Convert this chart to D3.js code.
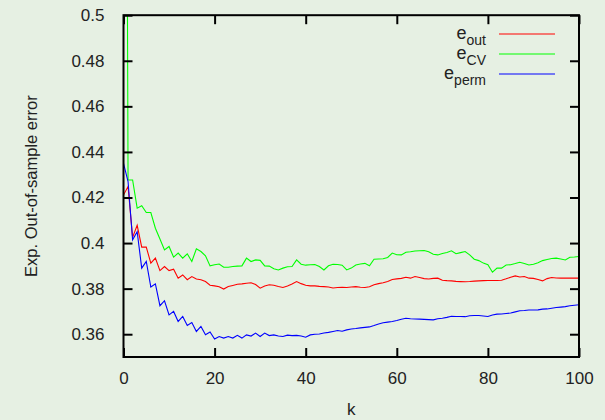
<!DOCTYPE html>
<html><head><meta charset="utf-8">
<script src="https://cdn.jsdelivr.net/npm/d3@7"></script>
<style>body{margin:0;background:#e6f0e3;} svg{display:block;font-family:"Liberation Sans",Arial,sans-serif;}</style>
</head><body><svg id="c" width="605" height="420"></svg>
<script>
const eOut = [0.4211,0.4248,0.4025,0.4078,0.3982,0.3982,0.3912,0.3934,0.3879,0.3897,
0.3879,0.3885,0.3846,0.3860,0.3839,0.3853,0.3842,0.3839,0.3831,0.3815,
0.3812,0.3808,0.3798,0.3809,0.3814,0.3819,0.3821,0.3824,0.3826,0.3818,
0.3802,0.3812,0.3817,0.3815,0.3809,0.3805,0.3812,0.3820,0.3831,0.3822,
0.3815,0.3812,0.3812,0.3810,0.3809,0.3807,0.3803,0.3805,0.3806,0.3805,
0.3807,0.3809,0.3806,0.3805,0.3808,0.3817,0.3822,0.3826,0.3831,0.3840,
0.3843,0.3845,0.3850,0.3846,0.3853,0.3849,0.3844,0.3842,0.3845,0.3846,
0.3837,0.3835,0.3834,0.3832,0.3831,0.3830,0.3831,0.3833,0.3834,0.3835,
0.3836,0.3836,0.3836,0.3837,0.3843,0.3850,0.3856,0.3851,0.3853,0.3846,
0.3845,0.3840,0.3834,0.3844,0.3849,0.3847,0.3846,0.3846,0.3846,0.3846,0.3846];
const eCV = [1.0,0.4277,0.4277,0.4153,0.4164,0.4134,0.4134,0.4065,0.4018,0.3970,
0.3985,0.3938,0.3956,0.3934,0.3953,0.3919,0.3975,0.3963,0.3944,0.3900,
0.3905,0.3908,0.3894,0.3894,0.3897,0.3899,0.3900,0.3934,0.3919,0.3926,
0.3924,0.3900,0.3899,0.3887,0.3882,0.3890,0.3896,0.3897,0.3926,0.3907,
0.3903,0.3905,0.3906,0.3897,0.3882,0.3900,0.3907,0.3906,0.3903,0.3882,
0.3890,0.3904,0.3908,0.3911,0.3900,0.3929,0.3930,0.3931,0.3937,0.3956,
0.3949,0.3948,0.3960,0.3962,0.3965,0.3966,0.3967,0.3962,0.3951,0.3948,
0.3954,0.3959,0.3966,0.3953,0.3958,0.3963,0.3948,0.3929,0.3923,0.3912,
0.3905,0.3872,0.3890,0.3890,0.3904,0.3905,0.3910,0.3916,0.3910,0.3904,
0.3907,0.3914,0.3923,0.3928,0.3932,0.3934,0.3930,0.3926,0.3938,0.3939,0.3941];
const ePerm = [0.4350,0.4270,0.4014,0.4050,0.3890,0.3919,0.3807,0.3821,0.3725,0.3747,
0.3685,0.3700,0.3656,0.3678,0.3638,0.3651,0.3612,0.3634,0.3598,0.3610,
0.3579,0.3590,0.3583,0.3590,0.3583,0.3595,0.3583,0.3597,0.3592,0.3605,
0.3590,0.3605,0.3594,0.3597,0.3592,0.3590,0.3596,0.3594,0.3595,0.3592,
0.3587,0.3597,0.3600,0.3601,0.3605,0.3608,0.3612,0.3616,0.3613,0.3619,
0.3623,0.3625,0.3628,0.3630,0.3632,0.3638,0.3645,0.3650,0.3653,0.3656,
0.3660,0.3666,0.3670,0.3668,0.3667,0.3666,0.3665,0.3664,0.3663,0.3668,
0.3670,0.3674,0.3679,0.3678,0.3678,0.3677,0.3681,0.3682,0.3682,0.3680,
0.3678,0.3684,0.3688,0.3689,0.3691,0.3693,0.3698,0.3703,0.3704,0.3706,
0.3706,0.3707,0.3710,0.3711,0.3714,0.3717,0.3719,0.3721,0.3725,0.3727,0.3729];
const kValues = d3.range(0, eOut.length);
const xTicks = [0,20,40,60,80,100];
const yTicks = [0.36,0.38,0.40,0.42,0.44,0.46,0.48,0.5];
const yTickLabels = ["0.36","0.38","0.4","0.42","0.44","0.46","0.48","0.5"];
const seriesNames = ["out","CV","perm"];
const seriesColors = ["#ff0000","#00ff00","#0000ff"];
const seriesData = [eOut, eCV, ePerm];

const svg = d3.select("#c");
const L = 123.5, R = 579, T = 15.2, B = 357;
const x = d3.scaleLinear().domain([0,100]).range([L,R]);
const y = d3.scaleLinear().domain([0.35,0.5]).range([B,T]);

svg.append("defs").append("clipPath").attr("id","clip")
  .append("rect").attr("x",L).attr("y",T).attr("width",R-L).attr("height",B-T);

const fs = 17;
const line = d3.line().x((d,i)=>x(kValues[i])).y(d=>y(d));
const g = svg.append("g").attr("clip-path","url(#clip)");
seriesData.forEach((s,i)=>{
  g.append("path").datum(s).attr("d",line).attr("fill","none")
   .attr("stroke",seriesColors[i]).attr("stroke-width",1.1);
});

const tl = 9;
const axB = d3.axisBottom(x).tickValues(xTicks).tickSize(-tl).tickPadding(tl+6).tickFormat(d3.format("d"));
const axT = d3.axisTop(x).tickValues(xTicks).tickSize(-tl).tickFormat("");
const axLft = d3.axisLeft(y).tickValues(yTicks).tickSize(-tl).tickPadding(tl+10).tickFormat((d,i)=>yTickLabels[i]);
const axRgt = d3.axisRight(y).tickValues(yTicks).tickSize(-tl).tickFormat("");
function style(sel){
  sel.select(".domain").remove();
  sel.selectAll(".tick line").attr("stroke","#000").attr("stroke-width",2);
  sel.selectAll(".tick text").attr("fill","#222").style("font-size",fs+"px").style("font-family","'Liberation Sans',Arial,sans-serif");
}
svg.append("g").attr("transform",`translate(0,${B})`).call(axB).call(style);
svg.append("g").attr("transform",`translate(0,${T})`).call(axT).call(style);
svg.append("g").attr("transform",`translate(${L},0)`).call(axLft).call(style);
svg.append("g").attr("transform",`translate(${R},0)`).call(axRgt).call(style);

svg.append("rect").attr("x",L).attr("y",T).attr("width",R-L).attr("height",B-T)
  .attr("fill","none").attr("stroke","#000").attr("stroke-width",2);

svg.append("text").attr("x",(L+R)/2).attr("y",415).attr("text-anchor","middle")
  .style("font-size",fs+"px").attr("fill","#222").text("k");
svg.append("text").attr("transform",`translate(37,${(T+B)/2}) rotate(-90)`).attr("text-anchor","middle")
  .style("font-size","16.5px").attr("fill","#222").text("Exp. Out-of-sample error");

const lg = svg.append("g");
seriesNames.forEach((n,i)=>{
  const yy = 34 + i*20;
  const t = lg.append("text").attr("x",486).attr("y",yy+5).attr("text-anchor","end").attr("fill","#222")
    .style("font-size","18px");
  t.append("tspan").text("e");
  t.append("tspan").attr("dy",6).style("font-size","14px").text(n);
  lg.append("line").attr("x1",499).attr("x2",555).attr("y1",yy).attr("y2",yy)
    .attr("stroke",seriesColors[i]).attr("stroke-width",1.1);
});
</script></body></html>
